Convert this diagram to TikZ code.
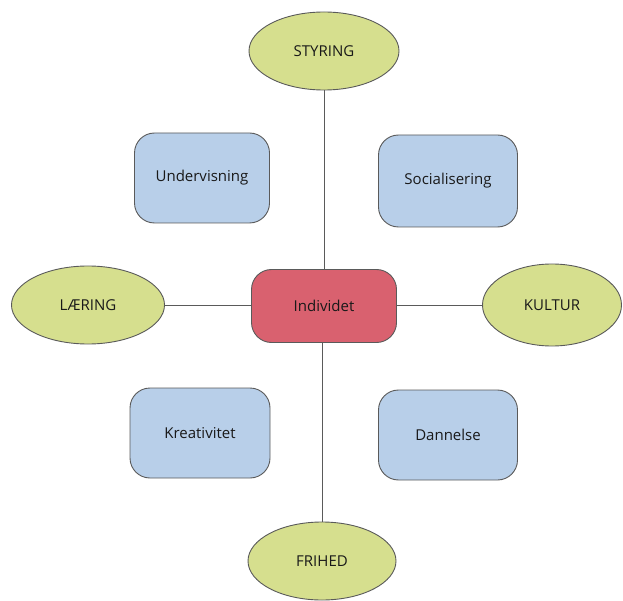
\documentclass[tikz,border=0pt]{standalone}
\usepackage{fontspec}
\setmainfont{Open Sans}
\usetikzlibrary{shapes.geometric}
\definecolor{olivefill}{HTML}{D6DF8E}
\definecolor{bluefill}{HTML}{B8CFE9}
\definecolor{redfill}{HTML}{D9616F}
\definecolor{edgegray}{HTML}{5A5A5A}
\tikzset{
  labeltext/.style={font=\fontsize{15}{17}\selectfont, text=black!90},
  ovalnode/.style={ellipse, draw=edgegray, line width=0.9pt, fill=olivefill, minimum width=150pt, minimum height=78pt, inner sep=0pt, labeltext},
  bluebox/.style={rectangle, rounded corners=20pt, draw=edgegray, line width=0.9pt, fill=bluefill, minimum width=139pt, minimum height=90pt, inner sep=0pt, labeltext},
  redbox/.style={rectangle, rounded corners=20pt, draw=edgegray, line width=0.9pt, fill=redfill, minimum width=145pt, minimum height=73pt, inner sep=0pt, labeltext},
  link/.style={draw=edgegray, line width=0.8pt}
}
\begin{document}
\begin{tikzpicture}[x=1pt, y=-1pt]
\useasboundingbox (0,0) rectangle (623,601);
\node[redbox] (ind) at (324,306) {Individet};
\node[ovalnode] (sty) at (324,51) {STYRING};
\node[ovalnode, minimum width=153pt] (lae) at (88,305) {LÆRING};
\node[ovalnode, minimum width=139pt, minimum height=82pt] (kul) at (552,305) {KULTUR};
\node[ovalnode, minimum width=148pt] (fri) at (322,561) {FRIHED};
\node[bluebox, minimum width=135pt] (und) at (202,178) {Undervisning};
\node[bluebox, minimum height=92pt] (soc) at (448,181) {Socialisering};
\node[bluebox, minimum width=140pt] (kre) at (200,433) {Kreativitet};
\node[bluebox] (dan) at (448,435) {Dannelse};
\draw[link] (sty.south) -- (ind.north -| sty.south);
\draw[link] (ind.south -| fri.north) -- (fri.north);
\draw[link] (lae.east) -- (ind.west |- lae.east);
\draw[link] (ind.east |- kul.west) -- (kul.west);
\end{tikzpicture}
\end{document}
